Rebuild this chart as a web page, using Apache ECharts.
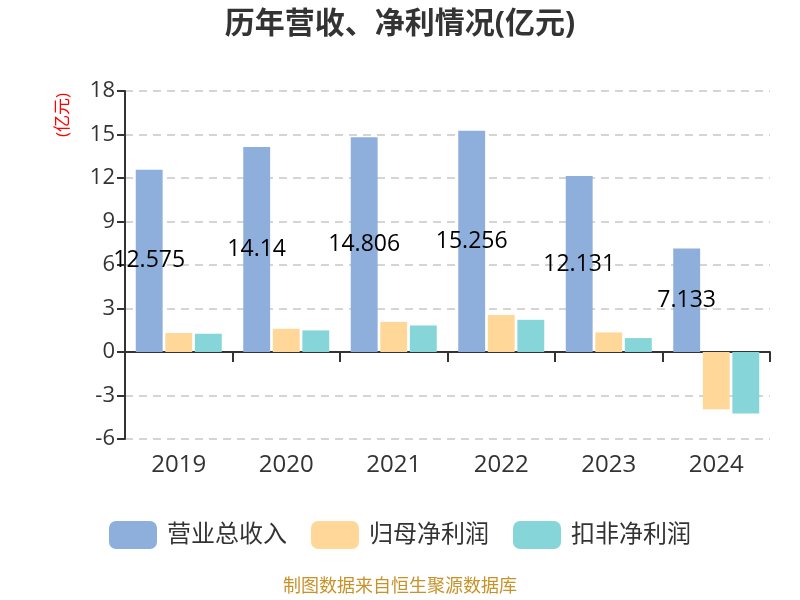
<!DOCTYPE html>
<html>
<head>
<meta charset="utf-8">
<script src="https://cdn.jsdelivr.net/npm/echarts@6/dist/echarts.min.js"></script>
<style>html,body{margin:0;padding:0;background:#fff}#c{width:800px;height:600px}</style>
</head>
<body>
<div id="c"></div>
<script>
var categories = ['2019', '2020', '2021', '2022', '2023', '2024'];
var revenue = [12.575, 14.14, 14.806, 15.256, 12.131, 7.133];
var netProfit = [1.31, 1.6, 2.08, 2.56, 1.35, -3.94];
var deductedProfit = [1.26, 1.49, 1.83, 2.22, 0.96, -4.24];
var yTicks = { min: -6, max: 18, interval: 3 };

var font = '"Open Sans", "Noto Sans CJK SC", sans-serif';
var chart = echarts.init(document.getElementById('c'));
chart.setOption({
  animation: false,
  textStyle: { fontFamily: font },
  title: {
    text: '历年营收、净利情况(亿元)',
    left: 'center', top: 4,
    textStyle: { fontSize: 30, fontWeight: 'bold', color: '#333', fontFamily: font }
  },
  legend: {
    bottom: 46, left: 'center',
    itemWidth: 48, itemHeight: 28, itemGap: 24,
    textStyle: { fontSize: 24, color: '#333', fontFamily: font, padding: [0, 0, 0, 5] },
    data: ['营业总收入', '归母净利润', '扣非净利润']
  },
  grid: { left: 125, right: 30, top: 91, bottom: 161, containLabel: false },
  graphic: [
    { type: 'text', left: 'center', top: 578,
      style: { text: '制图数据来自恒生聚源数据库', fill: '#c8922a', font: '18px ' + font } },
    { type: 'text', x: 63, y: 115, rotation: Math.PI / 2,
      style: { text: '(亿元)', fill: '#ff0000', font: '17px ' + font, align: 'center', verticalAlign: 'middle' } }
  ],
  xAxis: [
    { type: 'category', data: categories,
      axisLine: { onZero: true, lineStyle: { color: '#333', width: 2 } },
      axisTick: { show: true, length: 10, lineStyle: { color: '#333', width: 2 } },
      axisLabel: { show: false }, splitLine: { show: false } },
    { type: 'category', data: categories, position: 'bottom',
      axisLine: { show: false, onZero: false }, axisTick: { show: false },
      axisLabel: { fontSize: 24, color: '#333', margin: 14 } }
  ],
  yAxis: {
    type: 'value', min: yTicks.min, max: yTicks.max, interval: yTicks.interval,
    axisLine: { show: true, lineStyle: { color: '#333', width: 2 } },
    axisTick: { show: true, length: 8, lineStyle: { color: '#333', width: 2 } },
    axisLabel: { fontSize: 22, color: '#333', margin: 10 },
    splitLine: { lineStyle: { type: [8, 6], color: '#c8c8c8', width: 1.5 } }
  },
  series: [
    { name: '营业总收入', type: 'bar', data: revenue, xAxisIndex: 0,
      barGap: '10%', barCategoryGap: '20%',
      itemStyle: { color: '#8eaedb' },
      label: { show: true, position: 'inside', fontSize: 23, color: '#000' } },
    { name: '归母净利润', type: 'bar', data: netProfit, xAxisIndex: 0,
      barGap: '10%', barCategoryGap: '20%',
      itemStyle: { color: '#ffd899' } },
    { name: '扣非净利润', type: 'bar', data: deductedProfit, xAxisIndex: 0,
      barGap: '10%', barCategoryGap: '20%',
      itemStyle: { color: '#86d5d8' } }
  ]
});
</script>
</body>
</html>
